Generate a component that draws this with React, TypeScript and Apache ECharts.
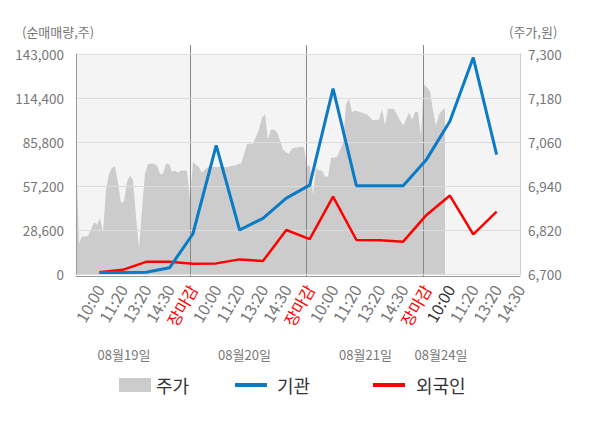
import React, { useEffect, useRef } from "react";
import * as echarts from "echarts";

// x-axis categories (time slots) for the net-trading lines
const categories = [
  "", "10:00", "11:20", "13:20", "14:30", "장마감",
  "10:00", "11:20", "13:20", "14:30", "장마감",
  "10:00", "11:20", "13:20", "14:30", "장마감",
  "10:00", "11:20", "13:20", "14:30",
];
const currentIndex = 16;

// cumulative net buying (shares)
const institution = [
  null, 1000, 1000, 1200, 4000, 26000, 83600, 28600, 36200, 49300, 57800,
  120500, 57300, 57300, 57300, 74500, 99300, 140700, 77600, null,
];
const foreign = [
  null, 1200, 2700, 7900, 7900, 6700, 6900, 9500, 8400, 28600, 22700,
  50300, 22100, 21900, 21000, 38400, 51000, 25800, 40500, null,
];

// intraday price (KRW), sampled along the time axis
const priceData = [
  7042, 6784, 6802, 6802, 6804, 6820, 6842, 6834, 6853, 6815,
  6930, 6973, 6990, 6993, 6949, 6894, 6897, 6952, 6968, 6957,
  6856, 6771, 6875, 6975, 7001, 7001, 7001, 6995, 6973, 6973,
  7001, 7001, 6979, 6982, 6976, 6982, 6982, 6982, 6902, 7006,
  6998, 6992, 6976, 6984, 6992, 6992, 6992, 6992, 6992, 6992,
  6992, 6992, 6995, 6995, 7001, 7001, 7025, 7055, 7055, 7055,
  7075, 7094, 7127, 7135, 7067, 7094, 7094, 7086, 7064, 7039,
  7032, 7028, 7042, 7045, 7045, 7047, 7045, 6995, 6995, 6916,
  6990, 6982, 6982, 6966, 6966, 7017, 7017, 7020, 7039, 7058,
  7162, 7179, 7141, 7146, 7143, 7141, 7138, 7135, 7127, 7119,
  7121, 7121, 7149, 7105, 7151, 7151, 7149, 7135, 7119, 7105,
  7121, 7141, 7121, 7142, 7142, 7076, 7217, 7209, 7198, 7146,
  7105, 7135, 7146, 7152,
];
const priceSlots = 148;
const dayBreaks = [38, 76.67, 115.6];

const dateLabels = ["08월19일", "08월20일", "08월21일", "08월24일"];
const leftTicks = { min: 0, max: 143000, interval: 28600 };
const rightTicks = { min: 6700, max: 7300, interval: 120 };

const FONT = "'Noto Sans CJK KR', 'Noto Sans', sans-serif";

export default function App() {
  const ref = useRef<HTMLDivElement>(null);
  useEffect(() => {
    if (!ref.current) return;
    const chart = echarts.init(ref.current, null, { renderer: "svg" });
    const fmt = (v: number) => v.toLocaleString("en-US");
    const dateX = [124, 244.5, 365.5, 441];
    chart.setOption({
      animation: false,
      textStyle: { fontFamily: FONT },
      grid: {
        left: 76, right: 80, top: 54, bottom: 154,
        show: true, backgroundColor: "#f4f4f4", borderWidth: 0,
      },
      legend: [
        {
          data: ["주가"], left: 114, top: 371, icon: "rect",
          itemWidth: 32, itemHeight: 14,
          textStyle: { fontSize: 18, color: "#333", fontFamily: FONT },
        },
        {
          data: ["기관"], left: 230, top: 371, icon: "rect",
          itemWidth: 32, itemHeight: 4,
          textStyle: { fontSize: 18, color: "#333", fontFamily: FONT, padding: [0, 0, 0, 5] },
        },
        {
          data: ["외국인"], left: 368, top: 371, icon: "rect",
          itemWidth: 32, itemHeight: 4,
          textStyle: { fontSize: 18, color: "#333", fontFamily: FONT, padding: [0, 0, 0, 6] },
        },
      ],
      xAxis: [
        {
          type: "category",
          data: categories,
          boundaryGap: false,
          axisLine: { lineStyle: { color: "#999" } },
          axisTick: { show: false },
          splitLine: { show: false },
          axisLabel: {
            interval: 0,
            rotate: 60,
            fontSize: 16,
            margin: 12,
            fontFamily: FONT,
            color: (v: string, i: number) =>
              v === "장마감" ? "#ff0000" : i === currentIndex ? "#333" : "#777",
          },
        },
        {
          type: "value",
          min: 0,
          max: priceSlots,
          position: "bottom",
          offset: 2,
          axisLine: { show: true, lineStyle: { color: "#999" } },
          axisTick: { show: false },
          axisLabel: { show: false },
          splitLine: { show: false },
        },
      ],
      yAxis: [
        {
          type: "value",
          ...leftTicks,
          position: "left",
          z: 3,
          axisLine: { show: true, lineStyle: { color: "#999" } },
          axisTick: { show: false },
          splitLine: { lineStyle: { color: "#dcdcdc" } },
          axisLabel: { formatter: fmt, fontSize: 13.5, color: "#777", margin: 12, fontFamily: FONT },
        },
        {
          type: "value",
          ...rightTicks,
          position: "right",
          axisLine: { show: true, lineStyle: { color: "#ccc" } },
          axisTick: { show: false },
          splitLine: { show: false },
          axisLabel: { formatter: fmt, fontSize: 13.5, color: "#777", margin: 8, fontFamily: FONT },
        },
      ],
      graphic: [
        {
          type: "text", left: 22, top: 25,
          style: { text: "(순매매량,주)", fontSize: 13, fill: "#777", fontFamily: FONT },
        },
        {
          type: "text", left: 509, top: 25,
          style: { text: "(주가,원)", fontSize: 13, fill: "#777", fontFamily: FONT },
        },
        ...dateLabels.map((t, i) => ({
          type: "text",
          x: dateX[i],
          y: 354,
          style: {
            text: t, fontSize: 13, fill: "#777", fontFamily: FONT,
            textAlign: "center", textVerticalAlign: "middle",
          },
        })),
      ],
      series: [
        {
          name: "주가",
          type: "line",
          xAxisIndex: 1,
          yAxisIndex: 1,
          data: priceData.map((v, i) => [i, v]),
          symbol: "none",
          lineStyle: { width: 0 },
          itemStyle: { color: "#cccccc" },
          areaStyle: { color: "#cccccc", opacity: 1, origin: "start" },
          z: 2,
        },
        {
          name: "외국인",
          type: "line",
          data: foreign,
          symbol: "none",
          z: 4,
          itemStyle: { color: "#ff0000" },
          lineStyle: { color: "#ff0000", width: 2.5 },
        },
        {
          name: "기관",
          type: "line",
          data: institution,
          symbol: "none",
          z: 5,
          itemStyle: { color: "#0a7bc4" },
          lineStyle: { color: "#0a7bc4", width: 3 },
        },
      ],
    });
    // day separators, extending slightly beyond the plot area
    const sepLines = dayBreaks.map((b) => {
      const px = chart.convertToPixel({ xAxisIndex: 1 }, b) as number;
      const x = Math.round(px) + 0.5;
      return {
        type: "line",
        z: 3,
        silent: true,
        shape: { x1: x, y1: 45, x2: x, y2: 277 },
        style: { stroke: "#888", lineWidth: 1 },
      };
    });
    chart.setOption({ graphic: sepLines.map((l, i) => ({ id: "sep" + i, ...l })) });
    return () => chart.dispose();
  }, []);
  return (
    <div
      ref={ref}
      style={{ position: "fixed", left: 0, top: 0, width: 600, height: 428, background: "#fff" }}
    />
  );
}
